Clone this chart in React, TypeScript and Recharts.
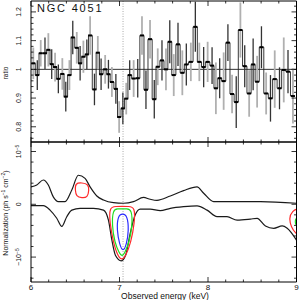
import React from 'react';
import { ComposedChart, Line, Scatter, ErrorBar, XAxis, YAxis, ReferenceLine } from 'recharts';

const FONT = '"Liberation Sans", Arial, Helvetica, sans-serif';

// top panel: data / model ratio per energy bin (keV)
const binEnergy = [
  6.026, 6.071, 6.11, 6.158, 6.196, 6.234, 6.272, 6.309, 6.354, 6.393,
  6.434, 6.472, 6.517, 6.555, 6.592, 6.631, 6.668, 6.717, 6.755, 6.792,
  6.838, 6.875, 6.914, 6.959, 6.996, 7.038, 7.076, 7.115, 7.16, 7.206,
  7.254, 7.299, 7.345, 7.393, 7.432, 7.48, 7.525, 7.568, 7.613, 7.661,
  7.71, 7.755, 7.806, 7.857, 7.902, 7.951, 7.996, 8.046, 8.089, 8.132,
  8.177, 8.225, 8.272, 8.319, 8.366, 8.415, 8.465, 8.51, 8.555, 8.604,
  8.657, 8.706, 8.754, 8.808, 8.856, 8.904, 8.96,
];
const binRatio = [
  1.021, 0.98, 1.056, 1.056, 1.068, 1.018, 1.008, 0.967, 0.984, 0.905,
  0.98, 1.111, 1.075, 1.021, 1.044, 1.052, 1.118, 0.93, 1.058, 0.983,
  1.0, 0.983, 0.956, 0.932, 0.834, 0.864, 0.898, 0.98, 0.968, 0.969,
  1.118, 0.929, 1.105, 0.896, 1.009, 1.031, 1.0, 1.096, 0.98, 1.087,
  0.988, 1.017, 1.026, 1.148, 1.026, 1.008, 1.026, 1.013, 0.934, 0.969,
  0.959, 1.093, 0.914, 0.886, 1.137, 1.011, 0.916, 1.017, 0.957, 1.077,
  0.916, 0.899, 0.966, 0.934, 0.998, 0.992, 0.907,
];
const binError = [
  0.055, 0.052, 0.046, 0.055, 0.058, 0.052, 0.05, 0.05, 0.055, 0.052,
  0.052, 0.058, 0.055, 0.06, 0.056, 0.052, 0.067, 0.055, 0.058, 0.055,
  0.05, 0.05, 0.052, 0.052, 0.055, 0.055, 0.055, 0.052, 0.064, 0.067,
  0.067, 0.067, 0.067, 0.067, 0.064, 0.07, 0.073, 0.075, 0.073, 0.075,
  0.078, 0.073, 0.067, 0.087, 0.067, 0.07, 0.07, 0.064, 0.09, 0.07,
  0.1, 0.064, 0.067, 0.09, 0.096, 0.073, 0.081, 0.09, 0.09, 0.073,
  0.073, 0.081, 0.1, 0.073, 0.113, 0.075, 0.096,
];

// bottom panel: line normalization contours, in units of 1e-5 ph/s/cm2
const upperEnvelope = [
  [6.0, 0.33], [6.065, 0.365], [6.139, 0.46], [6.196, 0.365], [6.252, 0.14],
  [6.309, 0.05], [6.385, 0.05], [6.461, 0.27], [6.535, 0.55], [6.611, 0.49],
  [6.668, 0.33], [6.744, 0.157], [6.819, 0.08], [6.932, 0.03], [7.045, 0.02],
  [7.158, 0.05], [7.271, 0.13], [7.347, 0.095], [7.423, 0.075], [7.574, 0.157],
  [7.724, 0.26], [7.876, 0.33], [7.951, 0.21], [8.064, 0.05], [8.29, 0.05],
  [8.593, 0.05], [9.0, 0.02],
];
const lowerEnvelope = [
  [6.0, -0.026], [6.139, -0.026], [6.215, -0.11], [6.291, -0.265], [6.348, -0.42],
  [6.404, -0.235], [6.461, -0.11], [6.555, -0.076], [6.705, -0.076], [6.819, -0.11],
  [6.875, -0.3], [6.914, -0.68], [6.955, -0.97], [7.02, -1.07], [7.07, -0.96],
  [7.121, -0.55], [7.178, -0.2], [7.234, -0.09], [7.347, -0.09], [7.46, -0.12],
  [7.574, -0.076], [7.724, -0.045], [7.876, -0.03], [7.989, -0.11], [8.102, -0.235],
  [8.215, -0.235], [8.329, -0.3], [8.479, -0.28], [8.555, -0.265], [8.649, -0.41],
  [8.743, -0.455], [8.838, -0.41], [8.895, -0.455], [9.0, -0.68],
];
const redEmission = [
  [6.5, 0.4], [6.575, 0.41], [6.65, 0.38], [6.655, 0.265], [6.64, 0.13],
  [6.575, 0.12], [6.51, 0.15], [6.5, 0.27],
];
const redAbsorption = [
  [6.885, -0.05], [6.96, -0.04], [7.03, -0.04], [7.1, -0.04], [7.175, -0.05],
  [7.17, -0.35], [7.13, -0.72], [7.07, -0.98], [7.027, -1.06], [6.98, -0.98],
  [6.93, -0.72], [6.89, -0.35],
];
const greenAbsorption = [
  [6.925, -0.1], [6.98, -0.085], [7.03, -0.085], [7.08, -0.085], [7.14, -0.1],
  [7.145, -0.4], [7.11, -0.72], [7.06, -0.92], [7.03, -0.99], [6.995, -0.92],
  [6.945, -0.72], [6.915, -0.4],
];
const blueAbsorption = [
  [6.98, -0.22], [7.035, -0.17], [7.09, -0.22], [7.105, -0.49], [7.08, -0.76],
  [7.04, -0.91], [7.0, -0.76], [6.97, -0.49],
];
const redEdge = [
  [9.03, -0.075], [8.95, -0.12], [8.915, -0.27], [8.94, -0.43], [8.99, -0.55], [9.03, -0.6],
];
const greenEdge = [
  [9.02, -0.25], [8.99, -0.27], [8.985, -0.33], [8.99, -0.39], [9.02, -0.41],
];

const energyTicks = [6, 6.2, 6.4, 6.6, 6.8, 7, 7.2, 7.4, 7.6, 7.8, 8, 8.2, 8.4, 8.6, 8.8, 9];
const energyMajors = [6, 7, 8, 9];
const ratioTicks = [
  0.76, 0.78, 0.8, 0.82, 0.84, 0.86, 0.88, 0.9, 0.92, 0.94, 0.96, 0.98, 1,
  1.02, 1.04, 1.06, 1.08, 1.1, 1.12, 1.14, 1.16, 1.18, 1.2, 1.22,
];
const ratioMajors = [0.8, 0.9, 1, 1.1, 1.2];
const normTicks = [-1.4, -1.2, -1, -0.8, -0.6, -0.4, -0.2, 0, 0.2, 0.4, 0.6, 0.8, 1];
const normMajors = [-1, 0, 1];

const LINE_ENERGY = 7.04;

const bins = binEnergy.map((e, i) => ({ e, ratio: binRatio[i], err: binError[i] }));
const lightBins = bins.filter((_, i) => i % 2 === 0);
const darkBins = bins.filter((_, i) => i % 2 === 1);
const pts = (arr: number[][]) => arr.map(([e, v]) => ({ e, v }));

type Side = 'bottom' | 'top' | 'left' | 'right';

function tickMaker(side: Side, majors: number[], label?: (v: number, x: number, y: number) => React.ReactNode) {
  return function Tick(props: any) {
    const { x, y, payload } = props;
    const v = payload.value;
    const major = majors.some((m) => Math.abs(m - v) < 1e-6);
    const len = major ? 5 : 2.5;
    let x2 = x;
    let y2 = y;
    if (side === 'bottom') y2 = y - len;
    if (side === 'top') y2 = y + len;
    if (side === 'left') x2 = x + len;
    if (side === 'right') x2 = x - len;
    return (
      <g>
        <line x1={x} y1={y} x2={x2} y2={y2} stroke="#000" strokeWidth={0.8} />
        {major && label ? label(v, x, y) : null}
      </g>
    );
  };
}

const energyLabel = (v: number, x: number, y: number) => (
  <text x={x} y={y + 7.8} textAnchor="middle" fontSize={8} fontFamily={FONT} fill="#111">
    {v}
  </text>
);

const ratioLabel = (v: number, x: number, y: number) => (
  <text x={x - 9.5} y={y} transform={`rotate(-90 ${x - 9.5} ${y})`} textAnchor="middle" fontSize={7} fontFamily={FONT} fill="#111">
    {v}
  </text>
);

const normLabel = (v: number, x: number, y: number) => (
  <text x={x - 9.5} y={y} transform={`rotate(-90 ${x - 9.5} ${y})`} textAnchor="middle" fontSize={7} fontFamily={FONT} fill="#111">
    {v === 0 ? '0' : (
      <>
        <tspan>{v < 0 ? '−10' : '10'}</tspan>
        <tspan dy={-2.5} fontSize={5}>−5</tspan>
      </>
    )}
  </text>
);

function frame(yDomain: [number, number], yTicks: number[], yMajors: number[], xLabels: boolean, yLabel: any) {
  const common = { type: 'number' as const, allowDataOverflow: true, interval: 0, tickSize: 0, tickMargin: 0, tickLine: false, axisLine: { stroke: '#000', strokeWidth: 1 } };
  return [
    <XAxis key="xb" xAxisId="b" dataKey="e" domain={[6, 9]} ticks={energyTicks} height={1} {...common}
      tick={tickMaker('bottom', energyMajors, xLabels ? energyLabel : undefined)} />,
    <XAxis key="xt" xAxisId="t" dataKey="e" orientation="top" domain={[6, 9]} ticks={energyTicks} height={1} {...common}
      tick={tickMaker('top', energyMajors)} />,
    <YAxis key="yl" yAxisId="l" domain={yDomain} ticks={yTicks} width={1} {...common}
      tick={tickMaker('left', yMajors, yLabel)} />,
    <YAxis key="yr" yAxisId="r" orientation="right" domain={yDomain} ticks={yTicks} width={1} {...common}
      tick={tickMaker('right', yMajors)} />,
  ];
}

const Marker = (p: any) => <rect x={p.cx - 2} y={p.cy - 1} width={4} height={2} fill="#000" />;

function contour(key: string, arr: number[][], color: string, type: any) {
  return (
    <Line key={key} data={pts(arr)} dataKey="v" xAxisId="b" yAxisId="l" type={type} stroke={color}
      strokeWidth={1.2} dot={false} activeDot={false} isAnimationActive={false} />
  );
}

export default function App() {
  return (
    <div style={{ position: 'absolute', left: 0, top: 0, width: 300, height: 300, background: '#fff', overflow: 'hidden' }}>
      <div style={{ position: 'absolute', left: 0, top: 0 }}>
        <ComposedChart width={300} height={143} margin={{ top: 0, right: 2.5, bottom: 0, left: 30 }}>
          {frame([0.747, 1.238], ratioTicks, ratioMajors, false, ratioLabel)}
          <ReferenceLine xAxisId="b" yAxisId="l" x={LINE_ENERGY} stroke="#aaa" strokeDasharray="1 1.5" />
          <ReferenceLine xAxisId="b" yAxisId="l" y={1} stroke="#333" strokeWidth={1} />
          <Scatter data={lightBins} dataKey="ratio" xAxisId="b" yAxisId="l" shape={Marker} isAnimationActive={false}>
            <ErrorBar dataKey="err" direction="y" width={0} stroke="#b0b0b0" strokeWidth={1.8} isAnimationActive={false} />
          </Scatter>
          <Scatter data={darkBins} dataKey="ratio" xAxisId="b" yAxisId="l" shape={Marker} isAnimationActive={false}>
            <ErrorBar dataKey="err" direction="y" width={0} stroke="#333" strokeWidth={1.3} isAnimationActive={false} />
          </Scatter>
          <Line data={bins} dataKey="ratio" xAxisId="b" yAxisId="l" type="step" stroke="#222" strokeWidth={0.9}
            dot={false} activeDot={false} isAnimationActive={false} />
        </ComposedChart>
      </div>
      <div style={{ position: 'absolute', left: 0, top: 141 }}>
        <ComposedChart width={300} height={159} margin={{ top: 0, right: 2.5, bottom: 17, left: 30 }}>
          {frame([-1.472, 1.18], normTicks, normMajors, true, normLabel)}
          <ReferenceLine xAxisId="b" yAxisId="l" x={LINE_ENERGY} stroke="#aaa" strokeDasharray="1 1.5" />
          {contour('up', upperEnvelope, '#1a1a1a', 'monotone')}
          {contour('lo', lowerEnvelope, '#1a1a1a', 'monotone')}
          {contour('re', redEmission, '#ff2a2a', 'basisClosed')}
          {contour('ra', redAbsorption, '#ff2a2a', 'basisClosed')}
          {contour('ga', greenAbsorption, '#22dd22', 'basisClosed')}
          {contour('ba', blueAbsorption, '#2a2aff', 'basisClosed')}
          {contour('rx', redEdge, '#ff2a2a', 'basis')}
          {contour('gx', greenEdge, '#22dd22', 'basis')}
        </ComposedChart>
      </div>
      <svg width={300} height={300} style={{ position: 'absolute', left: 0, top: 0, pointerEvents: 'none' }}>
        <text x={37} y={12} fontSize={11} letterSpacing={1.8} fontFamily={FONT} fill="#111">NGC 4051</text>
        <text transform="translate(7.5 73) rotate(-90)" textAnchor="middle" fontSize={6.5} fontFamily={FONT} fill="#111">ratio</text>
        <text transform="translate(7.5 213) rotate(-90)" textAnchor="middle" fontSize={7} fontFamily={FONT} fill="#111">
          Normalization (ph s<tspan dy={-2.5} fontSize={5}>−1</tspan>
          <tspan dy={2.5}> cm</tspan>
          <tspan dy={-2.5} fontSize={5}>−2</tspan>
          <tspan dy={2.5}>)</tspan>
        </text>
        <text x={165} y={298.5} textAnchor="middle" fontSize={8.5} fontFamily={FONT} fill="#111">Observed energy (keV)</text>
      </svg>
    </div>
  );
}
